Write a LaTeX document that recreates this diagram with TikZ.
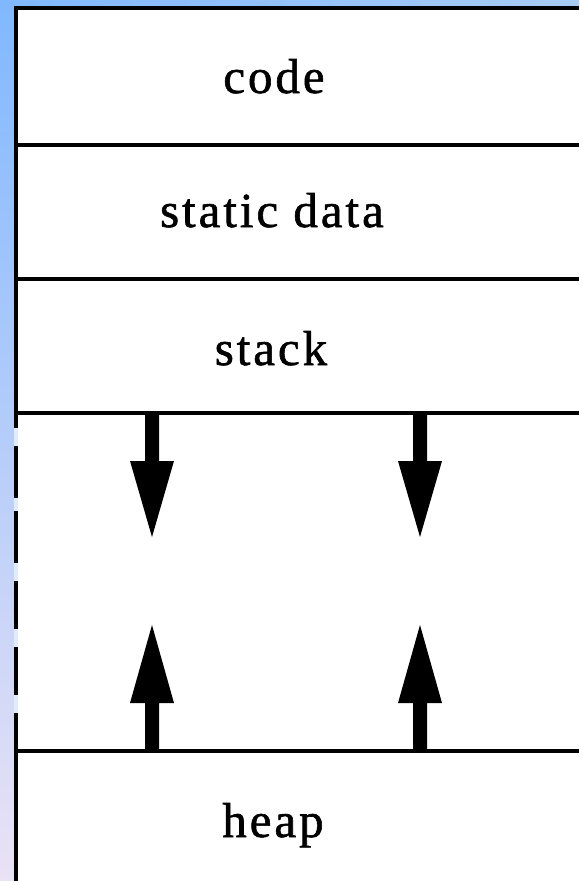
\documentclass[tikz,border=0pt]{standalone}
\usepackage{fontspec}
\setmainfont[LetterSpace=6,FakeBold=1.2]{Liberation Serif}
\definecolor{bgtop}{RGB}{128,184,255}
\definecolor{bgright}{RGB}{168,204,244}
\definecolor{bgbottom}{RGB}{234,226,245}
\definecolor{gapcol}{RGB}{222,236,252}
\tikzset{
  frame/.style={line width=4pt, black},
  divider/.style={line width=3.5pt, black},
  label/.style={anchor=base, inner sep=0pt, font=\fontsize{49}{51}\selectfont},
  darrow/.pic={\fill[black] (-7,0) -- (-7,48) -- (-22,48) -- (0,124) -- (22,48) -- (7,48) -- (7,0) -- cycle;},
  uarrow/.pic={\fill[black] (-7,0) -- (-7,-48) -- (-22,-48) -- (0,-126) -- (22,-48) -- (7,-48) -- (7,0) -- cycle;}
}
\begin{document}
\begin{tikzpicture}[x=1pt,y=-1pt]
\useasboundingbox (0,0) rectangle (579,881);
% background strips
\shade[top color=bgtop, bottom color=bgbottom] (0,0) rectangle (18,881);
\shade[left color=bgtop, right color=bgright] (0,0) rectangle (579,8);
\fill[white] (18,10) rectangle (579,881);
\fill[gapcol] (14,413) rectangle (18,751);
% coordinates
\coordinate (tl) at (14,8);
\coordinate (tr) at (579,8);
\coordinate (d1l) at (18,145);  \coordinate (d1r) at (579,145);
\coordinate (d2l) at (18,279);  \coordinate (d2r) at (579,279);
\coordinate (d3l) at (18,413);  \coordinate (d3r) at (579,413);
\coordinate (d4l) at (18,751);  \coordinate (d4r) at (579,751);
% frame
\draw[frame] (tl) -- (tr);
\draw[frame] (16,6) -- (16,428);
\draw[frame] (16,446) -- (16,498);
\draw[frame] (16,511) -- (16,563);
\draw[frame] (16,581) -- (16,629);
\draw[frame] (16,647) -- (16,695);
\draw[frame] (16,713) -- (16,881);
% dividers
\draw[divider] (d1l) -- (d1r);
\draw[divider] (d2l) -- (d2r);
\draw[divider] (d3l) -- (d3r);
\draw[divider] (d4l) -- (d4r);
% labels
\node[label] (code) at (274,93) {code};
\node[label] (static) at (272,227) {static data};
\node[label] (stack) at (271,365) {stack};
\node[label] (heap) at (273,837) {heap};
% arrows
\pic at (152,413) {darrow};
\pic at (420,413) {darrow};
\pic at (152,751) {uarrow};
\pic at (420,751) {uarrow};
\end{tikzpicture}
\end{document}
